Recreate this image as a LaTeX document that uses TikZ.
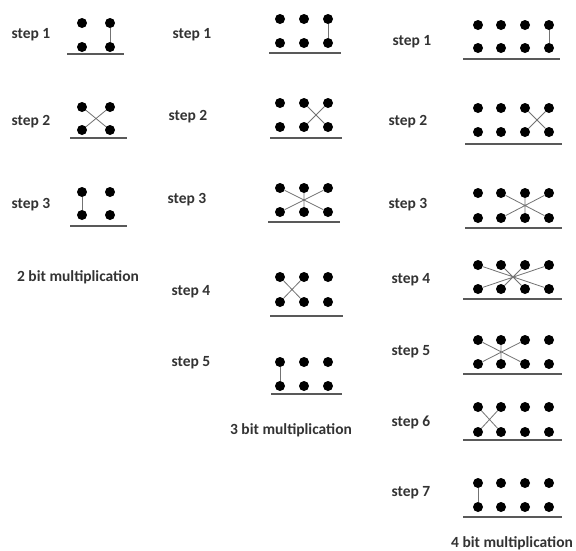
\documentclass[tikz,border=0pt]{standalone}
\usepackage{fontspec}
\setmainfont{Carlito}
\newcommand\dotrows[4]{%
  \foreach \xx [count=\ii] in #2 {%
    \node[dot] (#1t\ii) at (\xx,#3) {};
    \node[dot] (#1b\ii) at (\xx,#4) {};
  }}
\begin{document}
\begin{tikzpicture}[x=1pt,y=-1pt,
  dot/.style={circle,fill=black,inner sep=0pt,minimum size=10pt},
  link/.style={draw=black!55,line width=0.8pt},
  base/.style={draw=black!65,line width=1.4pt},
  lbl/.style={font=\bfseries\fontsize{15.5}{18}\selectfont,text=black!80},
]
\useasboundingbox[fill=white] (0,0) rectangle (576,550);

% ---------- 2 bit ----------
\def\xa{82,110}
\node[lbl] (l11) at (31,35) {step 1};
\dotrows{a1}{\xa}{23}{47}
\draw[base] (67,54) -- (124,54);
\draw[link] (a1t2) -- (a1b2);

\node[lbl] (l12) at (31,122) {step 2};
\dotrows{a2}{\xa}{107}{130}
\draw[base] (70,138) -- (127,138);
\draw[link] (a2t1) -- (a2b2) (a2t2) -- (a2b1);

\node[lbl] (l13) at (31,205) {step 3};
\dotrows{a3}{\xa}{192}{215}
\draw[base] (70,226) -- (127,226);
\draw[link] (a3t1) -- (a3b1);

\node[lbl] (ta) at (78,277) {2 bit multiplication};

% ---------- 3 bit ----------
\def\xb{280,304,328}
\node[lbl] (l21) at (192,35) {step 1};
\dotrows{b1}{\xb}{19}{43}
\draw[base] (269,53) -- (341,53);
\draw[link] (b1t3) -- (b1b3);

\node[lbl] (l22) at (188,117) {step 2};
\dotrows{b2}{\xb}{103}{127}
\draw[base] (270,138) -- (342,138);
\draw[link] (b2t2) -- (b2b3) (b2t3) -- (b2b2);

\node[lbl] (l23) at (187,200) {step 3};
\dotrows{b3}{\xb}{188}{212}
\draw[base] (268,222) -- (340,222);
\draw[link] (b3t1) -- (b3b3) (b3t3) -- (b3b1) (b3t2) -- (b3b2);

\node[lbl] (l24) at (191,292) {step 4};
\dotrows{b4}{\xb}{277}{302}
\draw[base] (270,316) -- (343,316);
\draw[link] (b4t1) -- (b4b2) (b4t2) -- (b4b1);

\node[lbl] (l25) at (191,363) {step 5};
\dotrows{b5}{\xb}{362}{386}
\draw[base] (271,394) -- (342,394);
\draw[link] (b5t1) -- (b5b1);

\node[lbl] (tb) at (291,430) {3 bit multiplication};

% ---------- 4 bit ----------
\def\xc{478,501,525,549}
\node[lbl] (l31) at (412,42) {step 1};
\dotrows{c1}{\xc}{25}{48}
\draw[base] (463,59) -- (560,59);
\draw[link] (c1t4) -- (c1b4);

\node[lbl] (l32) at (408,122) {step 2};
\dotrows{c2}{\xc}{108}{132}
\draw[base] (465,144) -- (562,144);
\draw[link] (c2t3) -- (c2b4) (c2t4) -- (c2b3);

\node[lbl] (l33) at (408,205) {step 3};
\dotrows{c3}{\xc}{193}{218}
\draw[base] (465,228) -- (562,228);
\draw[link] (c3t2) -- (c3b4) (c3t4) -- (c3b2) (c3t3) -- (c3b3);

\node[lbl] (l34) at (411,280) {step 4};
\dotrows{c4}{\xc}{265}{289}
\draw[base] (463,299) -- (562,299);
\draw[link] (c4t1) -- (c4b4) (c4t4) -- (c4b1) (c4t2) -- (c4b3) (c4t3) -- (c4b2);

\node[lbl] (l35) at (411,352) {step 5};
\dotrows{c5}{\xc}{340}{364}
\draw[base] (463,374) -- (562,374);
\draw[link] (c5t1) -- (c5b3) (c5t3) -- (c5b1) (c5t2) -- (c5b2);

\node[lbl] (l36) at (411,422) {step 6};
\dotrows{c6}{\xc}{407}{432}
\draw[base] (463,440) -- (562,440);
\draw[link] (c6t1) -- (c6b2) (c6t2) -- (c6b1);

\node[lbl] (l37) at (411,493) {step 7};
\dotrows{c7}{\xc}{483}{507}
\draw[base] (463,517) -- (562,517);
\draw[link] (c7t1) -- (c7b1);

\node[lbl] (tc) at (512,543) {4 bit multiplication};
\end{tikzpicture}
\end{document}
